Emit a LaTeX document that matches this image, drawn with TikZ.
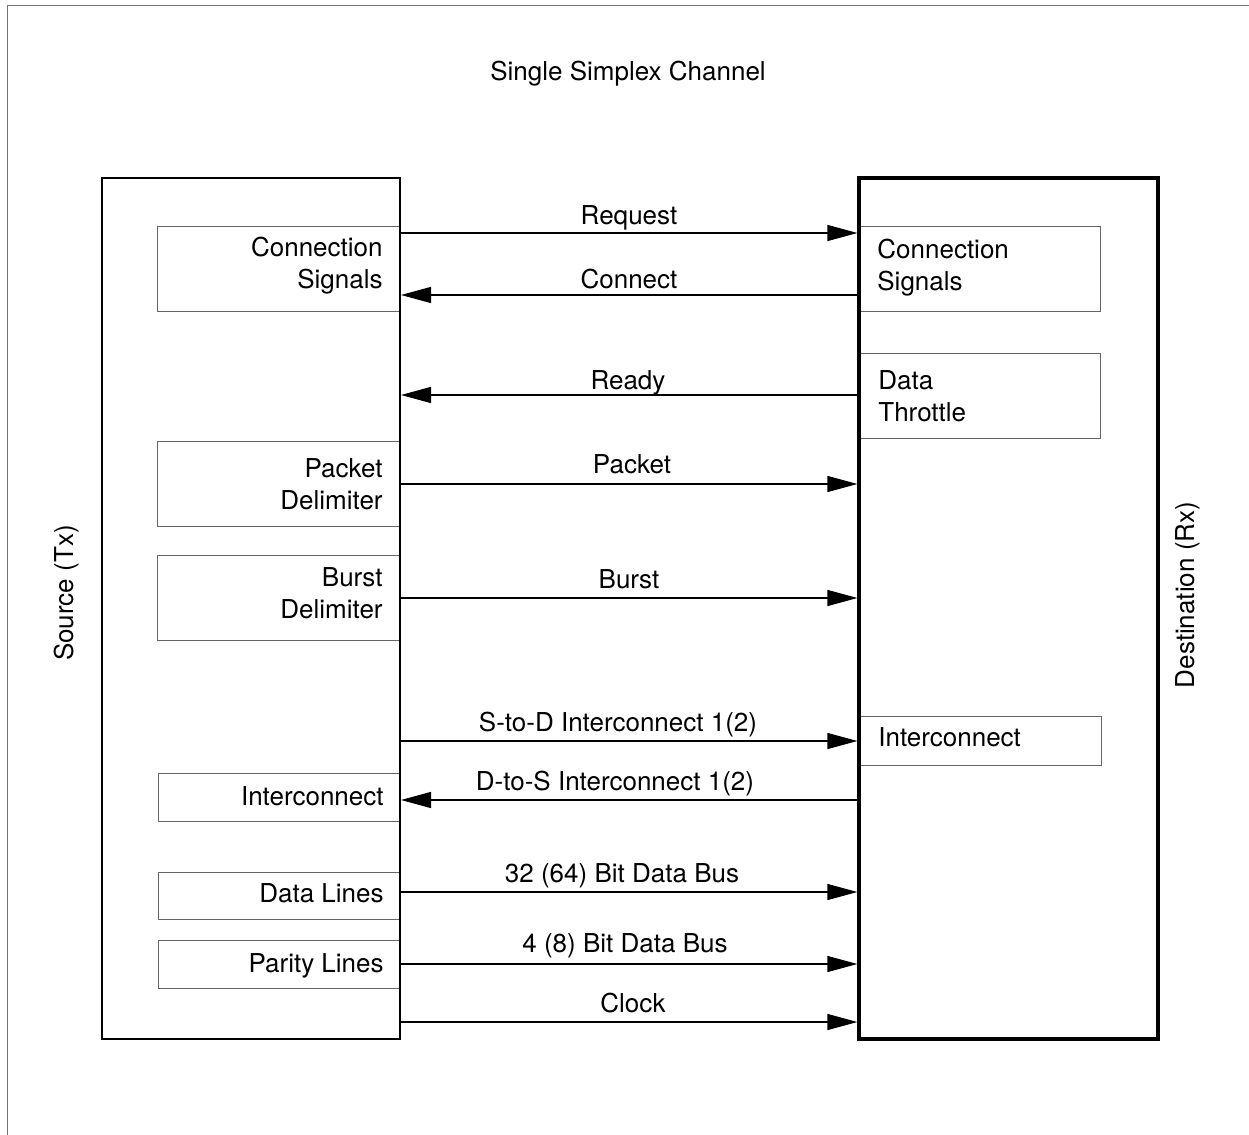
\documentclass[tikz,border=0pt]{standalone}
\usepackage{fontspec}
\setmainfont{TeX Gyre Heros}
\usetikzlibrary{arrows.meta,fit}

\begin{document}
\begin{tikzpicture}[x=0.5pt,y=-0.5pt,
  txt/.style={font=\fontsize{13}{16}\selectfont, inner sep=0pt},
  endbox/.style={draw, inner sep=0pt, line width=1pt},
  destbox/.style={draw, inner sep=0pt, line width=1.6pt},
  subbox/.style={draw=black!60, inner sep=0pt, line width=0.5pt},
  sig/.style={line width=0.6pt, -{Triangle[length=15pt,width=8pt]}}]

\useasboundingbox (0,0) rectangle (1249,1135);

% sheet frame (top and left edges)
\draw[black!55, line width=0.5pt] (7,1135) -- (7,5) -- (1249,5);

% title
\node[txt, anchor=base] (title) at (628,80) {Single Simplex Channel};

% corner points of the two end units and their blocks
\path (102,178) coordinate (s1) (400,1039) coordinate (s2)
      (859,178) coordinate (d1) (1158,1039) coordinate (d2)
      (157,226) coordinate (a1) (400,311) coordinate (a2)
      (157,441) coordinate (b1) (400,526) coordinate (b2)
      (157,555) coordinate (c1) (400,640) coordinate (c2)
      (158,773) coordinate (e1) (400,821) coordinate (e2)
      (158,872) coordinate (f1) (400,919) coordinate (f2)
      (158,940) coordinate (g1) (400,988) coordinate (g2)
      (859,226) coordinate (h1) (1100,311) coordinate (h2)
      (859,353) coordinate (i1) (1100,438) coordinate (i2)
      (859,716) coordinate (j1) (1101,765) coordinate (j2);

% source blocks
\node[subbox, fit=(a1)(a2)] (srcconn) {};
\node[subbox, fit=(b1)(b2)] (srcpkt) {};
\node[subbox, fit=(c1)(c2)] (srcburst) {};
\node[subbox, fit=(e1)(e2)] (srcic) {};
\node[subbox, fit=(f1)(f2)] (srcdata) {};
\node[subbox, fit=(g1)(g2)] (srcpar) {};

% destination blocks
\node[subbox, fit=(h1)(h2)] (dstconn) {};
\node[subbox, fit=(i1)(i2)] (dstthr) {};
\node[subbox, fit=(j1)(j2)] (dstic) {};

% end units
\node[endbox, fit=(s1)(s2)] (src) {};
\node[destbox, fit=(d1)(d2)] (dst) {};

% block texts
\node[txt, align=right, anchor=east] (tsc) at (383,266) {Connection\\Signals};
\node[txt, align=right, anchor=east] (tsp) at (383,484) {Packet\\Delimiter};
\node[txt, align=right, anchor=east] (tsb) at (383,593) {Burst\\Delimiter};
\node[txt, anchor=mid east] (tsi) at (384,800) {Interconnect};
\node[txt, anchor=mid east] (tsd) at (384,897) {Data Lines};
\node[txt, anchor=mid east] (tsr) at (384,967) {Parity Lines};
\node[txt, align=left, anchor=west] (tdc) at (877,268) {Connection\\Signals};
\node[txt, align=left, anchor=west] (tdt) at (878,396) {Data\\Throttle};
\node[txt, anchor=mid west] (tdi) at (878,741) {Interconnect};

% unit names
\node[txt, rotate=90] (tsrc) at (67,593) {Source (Tx)};
\node[txt, rotate=90] (tdst) at (1188,595) {Destination (Rx)};

% signals between the units
\draw[sig] (src.east |- 0,233) -- (dst.west |- 0,233);
\draw[sig] (dst.west |- 0,295) -- (src.east |- 0,295);
\draw[sig] (dst.west |- 0,395) -- (src.east |- 0,395);
\draw[sig] (src.east |- 0,484) -- (dst.west |- 0,484);
\draw[sig] (src.east |- 0,598) -- (dst.west |- 0,598);
\draw[sig] (src.east |- 0,741) -- (dst.west |- 0,741);
\draw[sig] (dst.west |- 0,800) -- (src.east |- 0,800);
\draw[sig] (src.east |- 0,892) -- (dst.west |- 0,892);
\draw[sig] (src.east |- 0,964) -- (dst.west |- 0,964);
\draw[sig] (src.east |- 0,1022) -- (dst.west |- 0,1022);

% signal names
\node[txt, anchor=base] (lrq) at (629,224) {Request};
\node[txt, anchor=base] (lcn) at (629,288) {Connect};
\node[txt, anchor=base] (lrd) at (628,389) {Ready};
\node[txt, anchor=base] (lpk) at (632,473) {Packet};
\node[txt, anchor=base] (lbu) at (629,588) {Burst};
\node[txt, anchor=base] (lsd) at (618,731) {S-to-D Interconnect 1(2)};
\node[txt, anchor=base] (lds) at (615,790) {D-to-S Interconnect 1(2)};
\node[txt, anchor=base] (ldb) at (622,882) {32 (64) Bit Data Bus};
\node[txt, anchor=base] (lpb) at (625,952) {4 (8) Bit Data Bus};
\node[txt, anchor=base] (lck) at (633,1012) {Clock};

\end{tikzpicture}
\end{document}
